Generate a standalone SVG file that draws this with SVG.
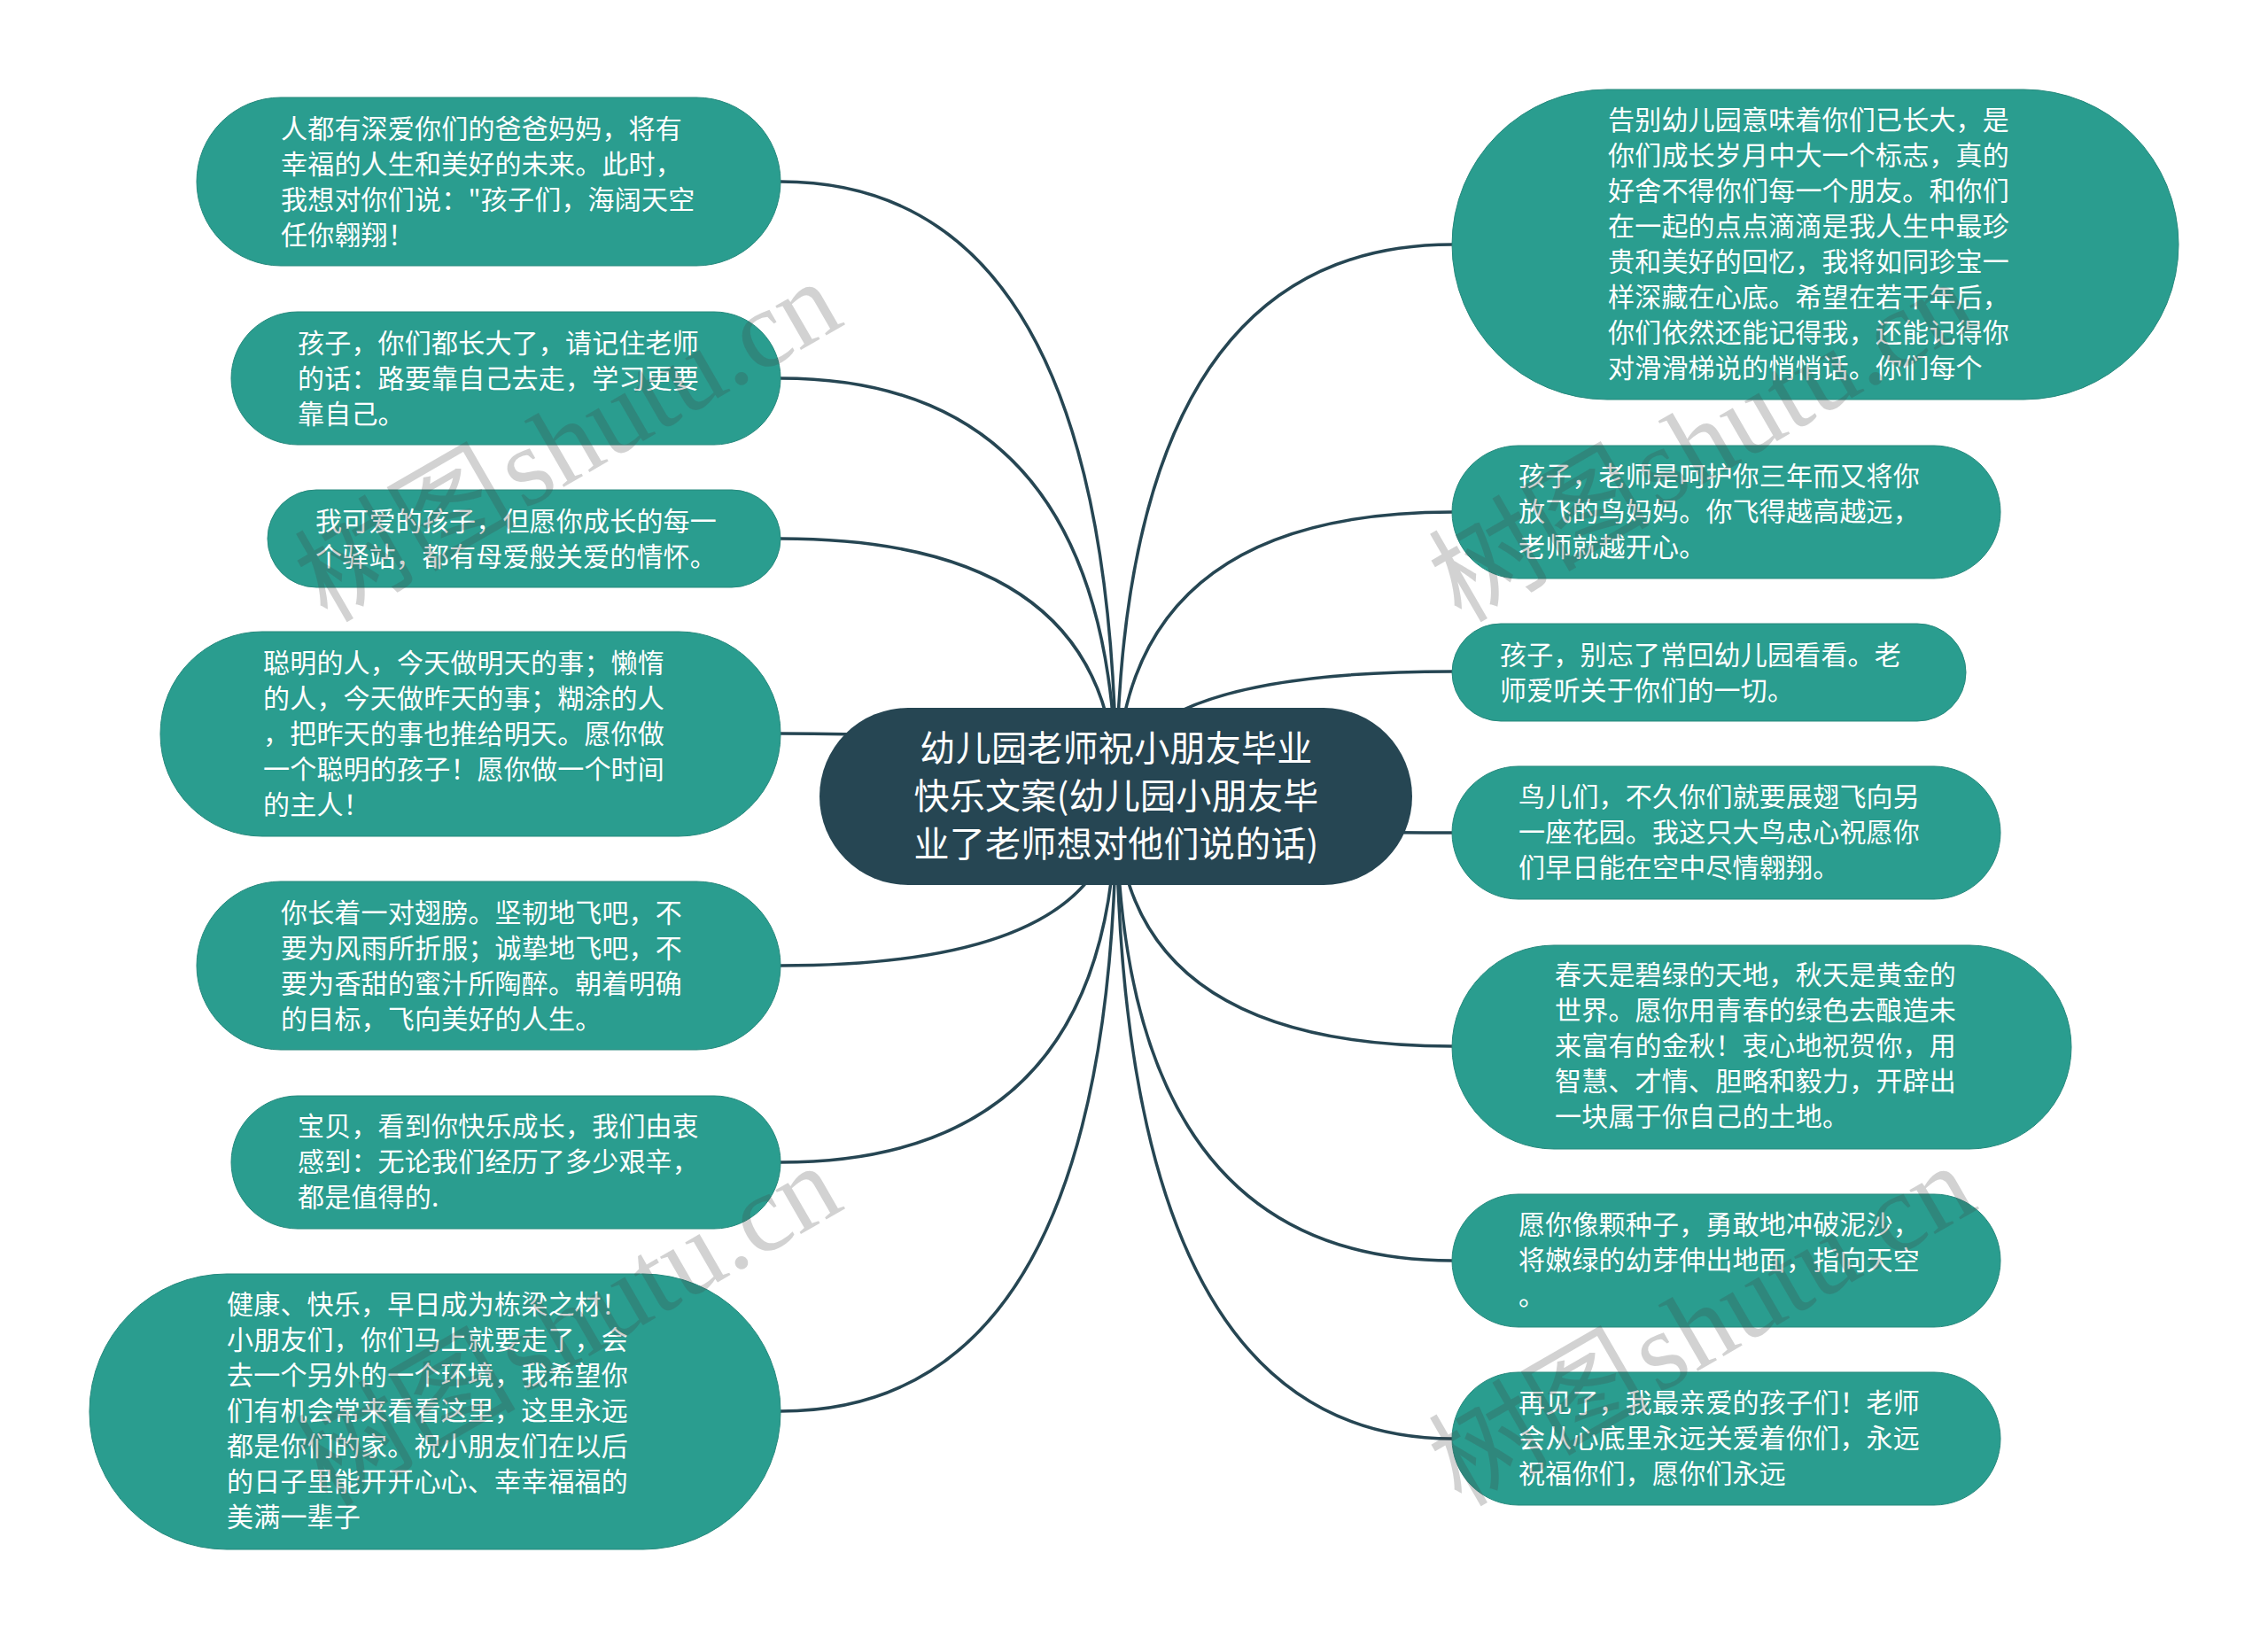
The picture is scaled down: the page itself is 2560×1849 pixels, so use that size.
<svg xmlns="http://www.w3.org/2000/svg" width="2560" height="1849" viewBox="0 0 2560 1849">
<style>
.n{fill:#2a9d8f;stroke:#26897d;stroke-width:1}
.c{fill:#264653}
.t{font-family:"Noto Sans CJK SC","Liberation Sans",sans-serif;font-size:30px;fill:#fff;letter-spacing:.2px}
.ct{font-family:"Noto Sans CJK SC","Liberation Sans",sans-serif;font-size:40px;fill:#fff;text-anchor:middle;letter-spacing:.3px}
.l{fill:none;stroke:#264653;stroke-width:3.5}
.w{font-family:"Liberation Serif","Noto Sans CJK SC",serif;font-size:125px;word-spacing:-24px;fill:#444;fill-opacity:.24}
</style>
<rect width="2560" height="1849" fill="#fff"/>
<g id="connectors">
<path class="l" d="M881 205Q1260 205 1260 899"/>
<path class="l" d="M881 427Q1260 427 1260 899"/>
<path class="l" d="M881 608Q1260 608 1260 899"/>
<path class="l" d="M881 828Q1260 828 1260 899"/>
<path class="l" d="M881 1090Q1260 1090 1260 899"/>
<path class="l" d="M881 1312Q1260 1312 1260 899"/>
<path class="l" d="M881 1593Q1260 1593 1260 899"/>
<path class="l" d="M1639 276Q1260 276 1260 899"/>
<path class="l" d="M1639 578Q1260 578 1260 899"/>
<path class="l" d="M1639 758Q1260 758 1260 899"/>
<path class="l" d="M1639 940Q1260 940 1260 899"/>
<path class="l" d="M1639 1181Q1260 1181 1260 899"/>
<path class="l" d="M1639 1423Q1260 1423 1260 899"/>
<path class="l" d="M1639 1624Q1260 1624 1260 899"/>
</g>
<g id="center">
<rect class="c" x="925" y="799" width="669" height="200" rx="100" ry="100"/>
<text class="ct" x="1260" y="859">幼儿园老师祝小朋友毕业</text>
<text class="ct" x="1260" y="913">快乐文案(幼儿园小朋友毕</text>
<text class="ct" x="1260" y="967">业了老师想对他们说的话)</text>
</g>
<g id="L1">
<rect class="n" x="222" y="110" width="659" height="190" rx="95"/>
<text class="t" x="317" y="156">人都有深爱你们的爸爸妈妈，将有</text>
<text class="t" x="317" y="196">幸福的人生和美好的未来。此时，</text>
<text class="t" x="317" y="236">我想对你们说："孩子们，海阔天空</text>
<text class="t" x="317" y="276">任你翱翔！</text>
</g>
<g id="L2">
<rect class="n" x="261" y="352" width="620" height="150" rx="75"/>
<text class="t" x="336" y="398">孩子，你们都长大了，请记住老师</text>
<text class="t" x="336" y="438">的话：路要靠自己去走，学习更要</text>
<text class="t" x="336" y="478">靠自己。</text>
</g>
<g id="L3">
<rect class="n" x="302" y="553" width="579" height="110" rx="55"/>
<text class="t" x="356" y="599">我可爱的孩子，但愿你成长的每一</text>
<text class="t" x="356" y="639">个驿站，都有母爱般关爱的情怀。</text>
</g>
<g id="L4">
<rect class="n" x="181" y="713" width="700" height="231" rx="115"/>
<text class="t" x="297" y="759">聪明的人，今天做明天的事；懒惰</text>
<text class="t" x="297" y="799">的人，今天做昨天的事；糊涂的人</text>
<text class="t" x="297" y="839">，把昨天的事也推给明天。愿你做</text>
<text class="t" x="297" y="879">一个聪明的孩子！愿你做一个时间</text>
<text class="t" x="297" y="919">的主人！</text>
</g>
<g id="L5">
<rect class="n" x="222" y="995" width="659" height="190" rx="95"/>
<text class="t" x="317" y="1041">你长着一对翅膀。坚韧地飞吧，不</text>
<text class="t" x="317" y="1081">要为风雨所折服；诚挚地飞吧，不</text>
<text class="t" x="317" y="1121">要为香甜的蜜汁所陶醉。朝着明确</text>
<text class="t" x="317" y="1161">的目标，飞向美好的人生。</text>
</g>
<g id="L6">
<rect class="n" x="261" y="1237" width="620" height="150" rx="75"/>
<text class="t" x="336" y="1282">宝贝，看到你快乐成长，我们由衷</text>
<text class="t" x="336" y="1322">感到：无论我们经历了多少艰辛，</text>
<text class="t" x="336" y="1362">都是值得的.</text>
</g>
<g id="L7">
<rect class="n" x="101" y="1438" width="780" height="311" rx="155"/>
<text class="t" x="256" y="1483">健康、快乐，早日成为栋梁之材！</text>
<text class="t" x="256" y="1523">小朋友们，你们马上就要走了，会</text>
<text class="t" x="256" y="1563">去一个另外的一个环境，我希望你</text>
<text class="t" x="256" y="1603">们有机会常来看看这里，这里永远</text>
<text class="t" x="256" y="1643">都是你们的家。祝小朋友们在以后</text>
<text class="t" x="256" y="1683">的日子里能开开心心、幸幸福福的</text>
<text class="t" x="256" y="1723">美满一辈子</text>
</g>
<g id="R1">
<rect class="n" x="1639" y="101" width="820" height="350" rx="175"/>
<text class="t" x="1815" y="146">告别幼儿园意味着你们已长大，是</text>
<text class="t" x="1815" y="186">你们成长岁月中大一个标志，真的</text>
<text class="t" x="1815" y="226">好舍不得你们每一个朋友。和你们</text>
<text class="t" x="1815" y="266">在一起的点点滴滴是我人生中最珍</text>
<text class="t" x="1815" y="306">贵和美好的回忆，我将如同珍宝一</text>
<text class="t" x="1815" y="346">样深藏在心底。希望在若干年后，</text>
<text class="t" x="1815" y="386">你们依然还能记得我，还能记得你</text>
<text class="t" x="1815" y="426">对滑滑梯说的悄悄话。你们每个</text>
</g>
<g id="R2">
<rect class="n" x="1639" y="503" width="619" height="150" rx="75"/>
<text class="t" x="1714" y="548">孩子，老师是呵护你三年而又将你</text>
<text class="t" x="1714" y="588">放飞的鸟妈妈。你飞得越高越远，</text>
<text class="t" x="1714" y="628">老师就越开心。</text>
</g>
<g id="R3">
<rect class="n" x="1639" y="704" width="580" height="110" rx="55"/>
<text class="t" x="1693" y="750">孩子，别忘了常回幼儿园看看。老</text>
<text class="t" x="1693" y="790">师爱听关于你们的一切。</text>
</g>
<g id="R4">
<rect class="n" x="1639" y="865" width="619" height="150" rx="75"/>
<text class="t" x="1714" y="910">鸟儿们，不久你们就要展翅飞向另</text>
<text class="t" x="1714" y="950">一座花园。我这只大鸟忠心祝愿你</text>
<text class="t" x="1714" y="990">们早日能在空中尽情翱翔。</text>
</g>
<g id="R5">
<rect class="n" x="1639" y="1067" width="699" height="230" rx="115"/>
<text class="t" x="1755" y="1111">春天是碧绿的天地，秋天是黄金的</text>
<text class="t" x="1755" y="1151">世界。愿你用青春的绿色去酿造未</text>
<text class="t" x="1755" y="1191">来富有的金秋！衷心地祝贺你，用</text>
<text class="t" x="1755" y="1231">智慧、才情、胆略和毅力，开辟出</text>
<text class="t" x="1755" y="1271">一块属于你自己的土地。</text>
</g>
<g id="R6">
<rect class="n" x="1639" y="1348" width="619" height="150" rx="75"/>
<text class="t" x="1714" y="1393">愿你像颗种子，勇敢地冲破泥沙，</text>
<text class="t" x="1714" y="1433">将嫩绿的幼芽伸出地面，指向天空</text>
<text class="t" x="1714" y="1473">。</text>
</g>
<g id="R7">
<rect class="n" x="1639" y="1549" width="619" height="150" rx="75"/>
<text class="t" x="1714" y="1594">再见了，我最亲爱的孩子们！老师</text>
<text class="t" x="1714" y="1634">会从心底里永远关爱着你们，永远</text>
<text class="t" x="1714" y="1674">祝福你们，愿你们永远</text>
</g>
<g id="watermarks">
<text class="w" transform="translate(369 704) rotate(-30)">树图 shutu.cn</text>
<text class="w" transform="translate(1649 704) rotate(-30)">树图 shutu.cn</text>
<text class="w" transform="translate(369 1702) rotate(-30)">树图 shutu.cn</text>
<text class="w" transform="translate(1649 1702) rotate(-30)">树图 shutu.cn</text>
</g>
</svg>
